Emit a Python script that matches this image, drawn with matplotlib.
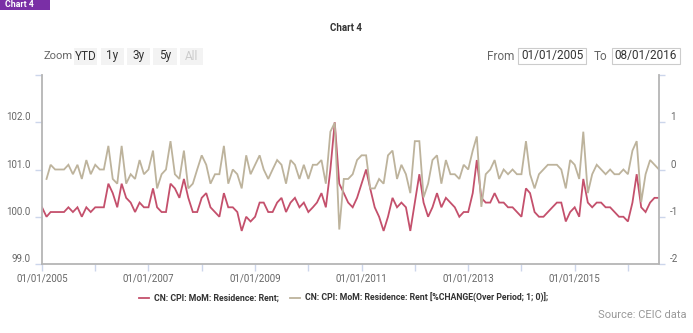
import matplotlib
matplotlib.use("Agg")
import matplotlib.pyplot as plt
from matplotlib.patches import Rectangle
from matplotlib.lines import Line2D
import pandas as pd

plt.rcParams["font.family"] = ["Roboto", "DejaVu Sans"]

# CN: CPI: MoM: Residence: Rent (previous month = 100), Jan 2005 - Aug 2016
rent = [
    100.2, 100.0, 100.1, 100.1, 100.1, 100.1, 100.2, 100.1, 100.2, 100.0, 100.2, 100.1,  # 2005
    100.2, 100.2, 100.2, 100.7, 100.5, 100.2, 100.7, 100.4, 100.3, 100.1, 100.3, 100.2,  # 2006
    100.2, 100.6, 100.2, 100.1, 100.1, 100.7, 100.6, 100.4, 100.8, 100.4, 100.1, 100.1,  # 2007
    100.4, 100.5, 100.2, 100.1, 100.0, 100.5, 100.2, 100.2, 100.1, 99.7, 100.0, 99.9,    # 2008
    100.0, 100.3, 100.3, 100.1, 100.1, 100.3, 100.4, 100.1, 100.3, 100.4, 100.2, 100.3,  # 2009
    100.1, 100.2, 100.3, 100.5, 100.2, 101.0, 102.0, 100.7, 100.5, 100.3, 100.2, 100.4,  # 2010
    100.7, 101.0, 100.6, 100.2, 100.0, 99.7, 100.0, 100.4, 100.2, 100.3, 100.2, 99.7,    # 2011
    100.3, 100.9, 100.3, 100.0, 100.2, 100.5, 100.2, 100.4, 100.3, 100.2, 100.0, 100.1,  # 2012
    100.1, 100.5, 101.2, 100.4, 100.3, 100.3, 100.5, 100.3, 100.3, 100.2, 100.2, 100.1,  # 2013
    100.0, 100.6, 100.5, 100.1, 100.0, 100.0, 100.1, 100.2, 100.3, 100.3, 99.9, 100.1,   # 2014
    100.2, 100.0, 100.8, 100.3, 100.2, 100.3, 100.3, 100.2, 100.2, 100.1, 100.0, 100.0,  # 2015
    99.9, 100.3, 100.9, 100.2, 100.1, 100.3, 100.4, 100.4,                               # 2016
]

# %CHANGE(Over Period; 1; 0) of the series above, Feb 2005 - Aug 2016
rent_chg = [
    -0.20, 0.10, 0.00, 0.00, 0.00, 0.10, -0.10, 0.10, -0.20, 0.20, -0.10,               # 2005
    0.10, 0.00, 0.00, 0.50, -0.20, -0.30, 0.50, -0.30, -0.10, -0.20, 0.20, -0.10,       # 2006
    0.00, 0.40, -0.40, -0.10, 0.00, 0.60, -0.10, -0.20, 0.40, -0.40, -0.30, 0.00,       # 2007
    0.30, 0.10, -0.30, -0.10, -0.10, 0.50, -0.30, 0.00, -0.10, -0.40, 0.30, -0.10,      # 2008
    0.10, 0.30, 0.00, -0.20, 0.00, 0.20, 0.10, -0.30, 0.20, 0.10, -0.20, 0.10,          # 2009
    -0.20, 0.10, 0.10, 0.20, -0.30, 0.80, 0.99, -1.27, -0.20, -0.20, -0.10, 0.20,       # 2010
    0.30, 0.30, -0.40, -0.40, -0.20, -0.30, 0.30, 0.40, -0.20, 0.10, -0.10, -0.50,      # 2011
    0.60, 0.60, -0.59, -0.30, 0.20, 0.30, -0.30, 0.20, -0.10, -0.10, -0.20, 0.10,       # 2012
    0.00, 0.40, 0.70, -0.79, -0.10, 0.00, 0.20, -0.20, 0.00, -0.10, 0.00, -0.10,        # 2013
    -0.10, 0.60, -0.10, -0.40, -0.10, 0.00, 0.10, 0.10, 0.10, 0.00, -0.40, 0.20,        # 2014
    0.10, -0.20, 0.80, -0.50, -0.10, 0.10, 0.00, -0.10, 0.00, -0.10, -0.10, 0.00,       # 2015
    -0.10, 0.40, 0.60, -0.69, -0.10, 0.20, 0.10, 0.00,                                  # 2016
]

dates = pd.date_range("2005-01-01", periods=len(rent), freq="MS")
year_ticks = pd.date_range("2005-01-01", "2016-01-01", freq="YS")
year_labels = [d.strftime("%m/%d/%Y") if d.year % 2 == 1 else "" for d in year_ticks]

left_ticks = [99, 100, 101, 102, 103]
left_labels = ["99.0", "100.0", "101.0", "102.0", ""]
right_ticks = [-2, -1, 0, 1, 2]
right_labels = ["-2", "-1", "0", "1", ""]

RED = "#c4506c"
BEIGE = "#bdb39c"
AXIS = "#b5b5b5"
TICK = "#ccd6eb"
LABEL = "#666666"

W, H = 693, 333


def fx(x):
    return x / W


def fy(y):
    return 1 - y / H


fig = plt.figure(figsize=(W / 100, H / 100), dpi=100)
fig.set_facecolor("white")

ax = fig.add_axes([fx(42), fy(264), (659 - 42) / W, (264 - 75) / H])
ax2 = ax.twinx()

ax.plot(dates, rent, color=RED, lw=1.3, solid_joinstyle="miter")
ax2.plot(dates[1:], rent_chg, color=BEIGE, lw=1.3, solid_joinstyle="miter")

ax.set_xlim(dates[0], dates[-1])
ax.set_ylim(99, 103)
ax2.set_ylim(-2, 2)

ax.set_xticks(year_ticks)
ax.set_xticklabels(year_labels)
ax.set_yticks(left_ticks)
ax.set_yticklabels(left_labels)
ax2.set_yticks(right_ticks)
ax2.set_yticklabels(right_labels)

for a in (ax, ax2):
    a.spines["top"].set_visible(False)
    for s in a.spines.values():
        s.set_color(AXIS)
        s.set_linewidth(1.3)
ax.spines["right"].set_visible(False)
ax2.spines["left"].set_visible(False)
ax2.spines["bottom"].set_visible(False)

ax.tick_params(axis="x", length=5, width=1, color=TICK, labelsize=7,
               labelcolor=LABEL, pad=2)
ax.tick_params(axis="y", length=5, width=1, color=TICK, labelsize=7,
               labelcolor=LABEL, pad=3)
ax2.tick_params(axis="y", length=4, width=1, color=TICK, labelsize=7,
                labelcolor=LABEL, pad=4)
for lbl in ax.get_yticklabels() + ax2.get_yticklabels():
    lbl.set_va("bottom")

# header tab
fig.add_artist(Rectangle((0, fy(9.5)), fx(50), 9.5 / H, transform=fig.transFigure,
                         facecolor="#7a2fa6", edgecolor="none"))
fig.text(fx(5), fy(4.8), "Chart 4", color="white", fontsize=6.3,
         fontweight="bold", va="center", ha="left")

fig.text(0.5, fy(28), "Chart 4", color="#333333", fontsize=7,
         fontweight="bold", ha="center", va="center")

# range selector buttons
fig.text(fx(43), fy(56), "Zoom", color=LABEL, fontsize=8, va="center")
buttons = [("YTD", 74, 97), ("1y", 101, 124), ("3y", 127, 150),
           ("5y", 153, 177), ("All", 180, 203)]
for name, x0, x1 in buttons:
    fig.add_artist(Rectangle((fx(x0), fy(65)), (x1 - x0) / W, 17 / H,
                             transform=fig.transFigure,
                             facecolor="#f3f3f3", edgecolor="none"))
    fig.text(fx((x0 + x1) / 2), fy(56), name, fontsize=8.5, ha="center", va="center",
             color="#cccccc" if name == "All" else "#333333")

# date inputs
fig.text(fx(487), fy(56), "From", color=LABEL, fontsize=8.5, va="center")
fig.text(fx(594), fy(56), "To", color=LABEL, fontsize=8.5, va="center")
for text, x0, x1 in [("01/01/2005", 518, 586), ("08/01/2016", 612, 680)]:
    fig.add_artist(Rectangle((fx(x0), fy(64)), (x1 - x0) / W, 16 / H,
                             transform=fig.transFigure,
                             facecolor="white", edgecolor="#cccccc", lw=0.8))
    fig.text(fx((x0 + x1) / 2), fy(56), text, color="#333333", fontsize=8.5,
             ha="center", va="center")

# legend
fig.add_artist(Line2D([fx(139), fx(149)], [fy(298), fy(298)], color=RED, lw=1.3,
                      transform=fig.transFigure))
fig.text(fx(154), fy(298), "CN: CPI: MoM: Residence: Rent;", color="#333333",
         fontsize=6.3, fontweight="bold", va="center")
fig.add_artist(Line2D([fx(290), fx(300)], [fy(298), fy(298)], color=BEIGE, lw=1.3,
                      transform=fig.transFigure))
fig.text(fx(305), fy(298), "CN: CPI: MoM: Residence: Rent [%CHANGE(Over Period; 1; 0)];",
         color="#333333", fontsize=6.3, fontweight="bold", va="center")

fig.text(fx(687), fy(315), "Source: CEIC data", color="#999999", fontsize=8,
         ha="right", va="center")

fig.savefig("out.png", dpi=100)
